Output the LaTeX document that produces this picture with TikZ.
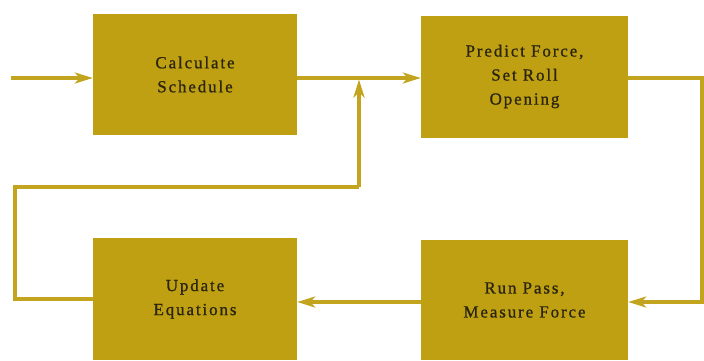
\documentclass[tikz,border=0pt]{standalone}
\usepackage{fontspec}
\setmainfont{Liberation Serif}[LetterSpace=11, FakeBold=0.8]
\usetikzlibrary{arrows.meta}
\definecolor{boxfill}{RGB}{190,160,18}
\definecolor{linecol}{RGB}{195,164,30}
\definecolor{txt}{RGB}{42,36,16}
\tikzset{
  blk/.style={fill=boxfill, draw=none, inner sep=0pt, align=center, text=txt,
    font=\fontsize{17}{24}\selectfont},
  flow/.style={draw=linecol, line width=3.6pt, line join=miter},
  tip/.style={-{Stealth[length=18pt,width=11pt,inset=5pt]}},
}
\begin{document}
\begin{tikzpicture}[x=1pt,y=-1pt]
\useasboundingbox (0,0) rectangle (704,360);
\node[blk, minimum width=204pt, minimum height=121pt] (calc) at (195,74.5) {Calculate\\Schedule};
\node[blk, minimum width=207pt, minimum height=122pt] (pred) at (524.5,76.5) {Predict Force,\\Set Roll\\Opening};
\node[blk, minimum width=204pt, minimum height=122pt] (upd) at (195,299) {Update\\Equations};
\node[blk, minimum width=207pt, minimum height=120pt] (run) at (524.5,300) {Run Pass,\\Measure Force};
\coordinate (in) at (11,78);
\coordinate (j) at (359,78);
\coordinate (rt) at (702,78);
\coordinate (rb) at (702,302);
\coordinate (lb) at (15,299);
\coordinate (lt) at (15,187);
\coordinate (jt) at (359,187);
% input
\draw[flow, tip] (in) -- (calc.west |- in);
% calc to predict
\draw[flow, tip] (calc.east |- j) -- (pred.west |- j);
% predict to run
\draw[flow, tip] (pred.east |- rt) -- (rt) -- (rb) -- (run.east |- rb);
% run to update
\draw[flow, tip] (run.west |- rb) -- (upd.east |- rb);
% update back to junction
\draw[flow] (upd.west |- lb) -- (lb) -- (lt) -- (jt);
\draw[flow, tip, shorten >=1.5pt] (jt) -- (j);
\end{tikzpicture}
\end{document}
